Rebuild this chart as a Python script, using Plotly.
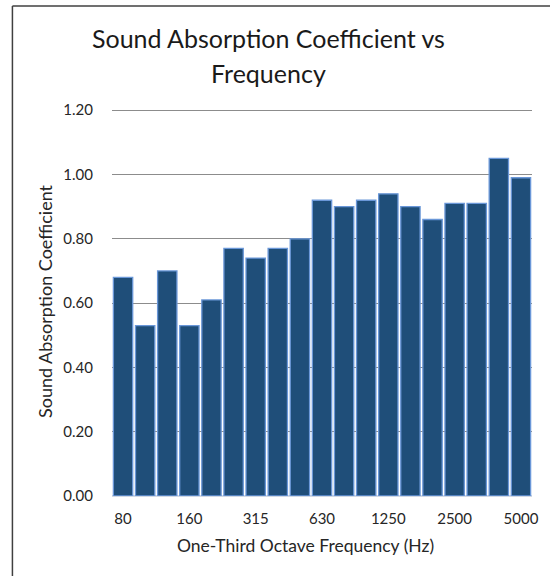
import plotly.graph_objects as go

frequencies = ["80", "100", "125", "160", "200", "250", "315", "400", "500", "630",
               "800", "1000", "1250", "1600", "2000", "2500", "3150", "4000", "5000"]
absorption = [0.68, 0.53, 0.70, 0.53, 0.61, 0.77, 0.74, 0.77, 0.80, 0.92,
              0.90, 0.92, 0.94, 0.90, 0.86, 0.91, 0.91, 1.05, 0.99]
x_tick_labels = ["80", "160", "315", "630", "1250", "2500", "5000"]
y_tick_values = [0.0, 0.2, 0.4, 0.6, 0.8, 1.0, 1.2]
title_lines = ["Sound Absorption Coefficient vs", "Frequency"]
x_title = "One-Third Octave Frequency (Hz)"
y_title = "Sound Absorption Coefficient"

FONT = "Lato, 'Open Sans', sans-serif"

# plot area geometry (pixels); y range slightly above 1.2 so the top grid line is drawn
W, H = 550, 576
L, R, T, B = 112, 12, 107, 80
PW, PH = W - L - R, H - T - B
Y_MAX = 1.21


def px_to_paper_x(px):
    return (px - L) / PW


def px_to_paper_y(py):
    return (H - B - py) / PH


fig = go.Figure(
    go.Bar(
        x=frequencies,
        y=absorption,
        marker=dict(color="#1F4E79", line=dict(color="#6A97D8", width=1.3)),
    )
)

fig.update_layout(
    width=W,
    height=H,
    margin=dict(l=L, r=R, t=T, b=B),
    paper_bgcolor="white",
    plot_bgcolor="white",
    bargap=0.125,
    showlegend=False,
    font=dict(family=FONT, color="#262626", size=14),
    annotations=[
        dict(text=title_lines[0], xref="paper", yref="paper",
             x=px_to_paper_x(271), y=px_to_paper_y(38),
             xanchor="center", yanchor="middle", showarrow=False,
             font=dict(family=FONT, size=25, color="#1a1a1a")),
        dict(text=title_lines[1], xref="paper", yref="paper",
             x=px_to_paper_x(271), y=px_to_paper_y(73),
             xanchor="center", yanchor="middle", showarrow=False,
             font=dict(family=FONT, size=25, color="#1a1a1a")),
        dict(text=x_title, xref="paper", yref="paper",
             x=px_to_paper_x(308), y=px_to_paper_y(545),
             xanchor="center", yanchor="middle", showarrow=False,
             font=dict(family=FONT, size=17.5, color="#262626")),
    ],
    shapes=[
        dict(type="line", xref="paper", yref="paper",
             x0=px_to_paper_x(11), x1=px_to_paper_x(11),
             y0=px_to_paper_y(600), y1=px_to_paper_y(6),
             line=dict(color="#404040", width=1.5)),
        dict(type="line", xref="paper", yref="paper",
             x0=px_to_paper_x(11), x1=px_to_paper_x(600),
             y0=px_to_paper_y(6), y1=px_to_paper_y(6),
             line=dict(color="#404040", width=1.5)),
    ],
)

fig.update_xaxes(
    type="category",
    tickmode="array",
    tickvals=x_tick_labels,
    ticktext=x_tick_labels,
    ticks="outside",
    ticklen=9,
    tickcolor="rgba(0,0,0,0)",
    tickfont=dict(size=15, color="#262626"),
    showgrid=False,
    showline=False,
)

fig.update_yaxes(
    range=[0, Y_MAX],
    tickmode="array",
    tickvals=y_tick_values,
    tickformat=".2f",
    ticks="outside",
    ticklen=15,
    tickcolor="rgba(0,0,0,0)",
    tickfont=dict(size=15, color="#262626"),
    showgrid=True,
    gridcolor="#8C8C8C",
    gridwidth=1,
    zeroline=True,
    zerolinecolor="#D0D8E4",
    zerolinewidth=1.5,
    showline=False,
    title=dict(text=y_title, font=dict(size=18, color="#262626"), standoff=6),
)

fig.write_html(
    "out.html",
    config={"displayModeBar": False},
    post_script="document.body.style.margin='0';",
)
